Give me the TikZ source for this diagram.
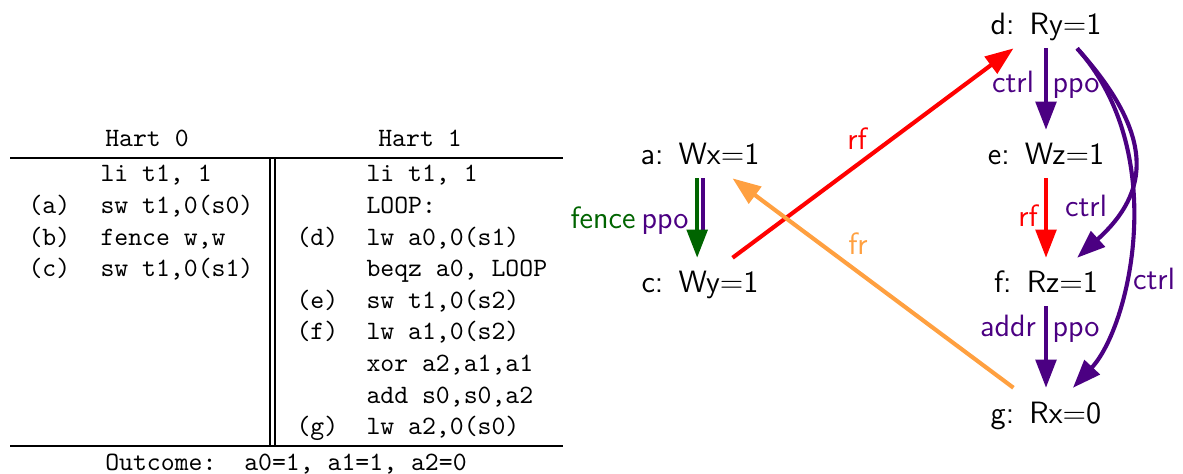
\documentclass[tikz,border=0pt]{standalone}
\usepackage{tikz}
\usetikzlibrary{arrows.meta, positioning, calc}

\definecolor{ppocol}{RGB}{75,0,130}
\definecolor{fencecol}{RGB}{0,100,0}
\definecolor{rfcol}{RGB}{255,0,0}
\definecolor{frcol}{RGB}{255,160,64}

\tikzset{
  ev/.style={font=\sffamily\large, inner sep=3pt, text height=10.5pt, text depth=2pt},
  rel/.style={line width=1.6pt, -{Triangle[length=11pt, width=8pt]}},
  lbl/.style={font=\sffamily\large, inner sep=0pt, anchor=base},
  code/.style={font=\fontsize{10.3}{12}\ttfamily, inner sep=0pt, anchor=base west},
}

\begin{document}
\begin{tikzpicture}[x=0.389pt, y=-0.389pt]
    \useasboundingbox (0,0) rectangle (1183,474);

    % litmus test table
    \node[code, anchor=base] (hart0) at (147,147) {Hart 0};
    \node[code, anchor=base] (hart1) at (420,147) {Hart 1};
    \draw (10,158) -- (563,158);
    \draw (10,446) -- (563,446);
    \draw (270,158) -- (270,446);
    \draw (275,158) -- (275,446);

    \foreach \i/\tag in {1/a, 2/b, 3/c}
        \node[code] (tag0-\i) at (28,182+\i*31.6) {(\tag)};
    \foreach \i/\instr in {0/{li t1, 1}, 1/{sw t1,0(s0)}, 2/{fence w,w}, 3/{sw t1,0(s1)}}
        \node[code] (ins0-\i) at (100,182+\i*31.6) {\instr};

    \foreach \i/\tag in {2/d, 4/e, 5/f, 8/g}
        \node[code] (tag1-\i) at (296,182+\i*31.6) {(\tag)};
    \foreach \i/\instr in {0/{li t1, 1}, 1/{LOOP:}, 2/{lw a0,0(s1)}, 3/{beqz a0, LOOP},
                           4/{sw t1,0(s2)}, 5/{lw a1,0(s2)}, 6/{xor a2,a1,a1},
                           7/{add s0,s0,a2}, 8/{lw a2,0(s0)}}
        \node[code] (ins1-\i) at (366,182+\i*31.6) {\instr};

    \node[code, anchor=base] (outcome) at (286,470) {Outcome:\ \ a0=1, a1=1, a2=0};

    % events
    \node[ev, anchor=base] (a) at (700,165) {a:\ \,Wx$=$1};
    \node[ev, anchor=base] (c) at (700,293) {c:\ \,Wy$=$1};
    \node[ev, anchor=base] (d) at (1046,35) {d:\ \,Ry$=$1};
    \node[ev, anchor=base] (e) at (1046,165) {e:\ \,Wz$=$1};
    \node[ev, anchor=base] (f) at (1046,293) {f:\ \,Rz$=$1};
    \node[ev, anchor=base] (g) at (1046,423) {g:\ \,Rx$=$0};

    % relations
    \draw[ppocol, line width=1.6pt, shorten >=10pt] ([xshift=1.2pt]a.south) -- ([xshift=1.2pt]c.north);
    \draw[rel, fencecol] ([xshift=-1.1pt]a.south) -- ([xshift=-1.1pt]c.north);
    \draw[rel, rfcol] (c) -- (d);
    \draw[rel, frcol] (g) -- (a);
    \draw[rel, ppocol] (d) -- (e);
    \draw[rel, rfcol] (e) -- (f);
    \draw[rel, ppocol] (f) -- (g);
    \draw[rel, ppocol] (d.-38) to[out=-48, in=42, out distance=46pt, in distance=38pt] (f.38);
    \draw[rel, ppocol] (d.-38) to[out=-48, in=47, out distance=54.5pt, in distance=32.5pt] (g.42);

    % labels
    \node[lbl, fencecol] (fence-ac) at (603,229) {fence};
    \node[lbl, ppocol] (ppo-ac) at (665,229) {ppo};
    \node[lbl, rfcol] (rf-cd) at (857,150) {rf};
    \node[lbl, frcol] (fr-ga) at (858,255) {fr};
    \node[lbl, ppocol] (ctrl-de) at (1013,93) {ctrl};
    \node[lbl, ppocol] (ppo-de) at (1076,93) {ppo};
    \node[lbl, rfcol] (rf-ef) at (1028,227) {rf};
    \node[lbl, ppocol] (ctrl-df) at (1086,217) {ctrl};
    \node[lbl, ppocol] (ctrl-dg) at (1154,290) {ctrl};
    \node[lbl, ppocol] (addr-fg) at (1008,337) {addr};
    \node[lbl, ppocol] (ppo-fg) at (1076,337) {ppo};
\end{tikzpicture}
\end{document}
